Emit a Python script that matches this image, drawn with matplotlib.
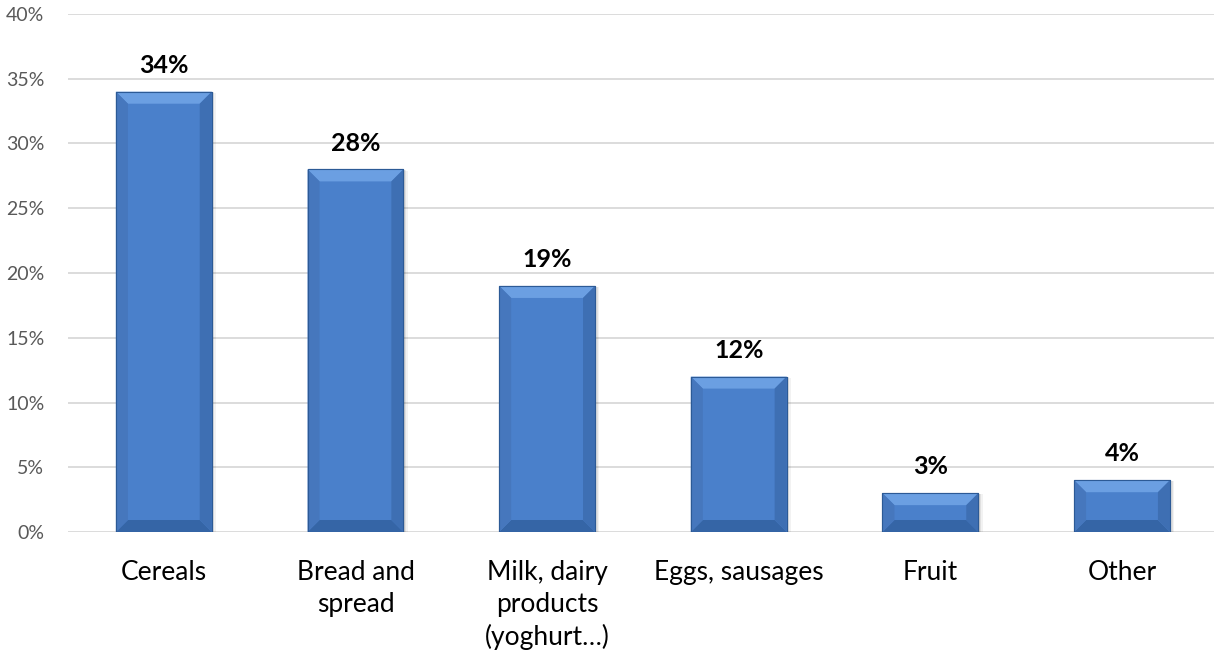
import matplotlib.pyplot as plt
from matplotlib.patches import Polygon, Rectangle

categories = ["Cereals", "Bread and\nspread", "Milk, dairy\nproducts\n(yoghurt\u2026)",
              "Eggs, sausages", "Fruit", "Other"]
values = [34, 28, 19, 12, 3, 4]
yticks = [0, 5, 10, 15, 20, 25, 30, 35, 40]

W, H = 1214, 659
fig = plt.figure(figsize=(W / 100, H / 100), dpi=100)
ax = fig.add_axes([68 / W, (H - 532) / H, (W - 68) / W, 518 / H])

font = ["Lato", "DejaVu Sans"]
face = "#4a80cb"
xlim = (-0.5, 5.48)
ylim = (0, 40)
ax.set_xlim(*xlim)
ax.set_ylim(*ylim)

# data units per pixel, used for the bevel edges
px_x = (xlim[1] - xlim[0]) / (W - 68)
px_y = (ylim[1] - ylim[0]) / 518
bev = 12

bars = ax.bar(range(len(values)), values, width=0.5, color=face,
              edgecolor="#2c5a96", linewidth=0.8, zorder=3)

for b in bars:
    x0, y0 = b.get_x(), b.get_y()
    w, h = b.get_width(), b.get_height()
    x1, y1 = x0 + w, y0 + h
    bx, by = bev * px_x, min(bev * px_y, h / 2.2)
    # soft shadow to the right and below
    for k, a in [(4, 0.05), (2.5, 0.07), (1.2, 0.09)]:
        ax.add_patch(Rectangle((x0 + k * px_x * 0.5, y0 - k * px_y * 0.3), w + k * px_x * 0.6, h,
                               color="black", alpha=a, lw=0, zorder=2))
    top = Polygon([(x0, y1), (x1, y1), (x1 - bx, y1 - by), (x0 + bx, y1 - by)],
                  closed=True, color="#6b9fe2", lw=0, zorder=4)
    bottom = Polygon([(x0, y0), (x1, y0), (x1 - bx, y0 + by), (x0 + bx, y0 + by)],
                     closed=True, color="#3565a6", lw=0, zorder=4)
    left = Polygon([(x0, y0), (x0, y1), (x0 + bx, y1 - by), (x0 + bx, y0 + by)],
                   closed=True, color="#4677bd", lw=0, zorder=4)
    right = Polygon([(x1, y0), (x1, y1), (x1 - bx, y1 - by), (x1 - bx, y0 + by)],
                    closed=True, color="#3e6fb3", lw=0, zorder=4)
    for p in (top, bottom, left, right):
        ax.add_patch(p)
    ax.add_patch(Rectangle((x0, y0), w, h, fill=False, edgecolor="#2c5a96", lw=0.8, zorder=5))

for i, v in enumerate(values):
    ax.text(i, v + 1.15, f"{v}%", ha="center", va="bottom", fontsize=18,
            fontweight="bold", family=font, color="black", zorder=6)

ax.set_yticks(yticks)
ax.set_yticklabels([f"{t}%" for t in yticks], fontsize=14, color="#595959", family=font)
ax.set_xticks(range(len(categories)))
ax.set_xticklabels(categories, fontsize=19, color="black", family=font, linespacing=1.35)
ax.tick_params(axis="both", length=0)
ax.tick_params(axis="y", pad=17)
ax.tick_params(axis="x", pad=20)
ax.yaxis.grid(True, color="#d9d9d9", linewidth=1.3, zorder=0)
ax.set_axisbelow(True)
for s in ax.spines.values():
    s.set_visible(False)

fig.savefig("out.png", dpi=100)
